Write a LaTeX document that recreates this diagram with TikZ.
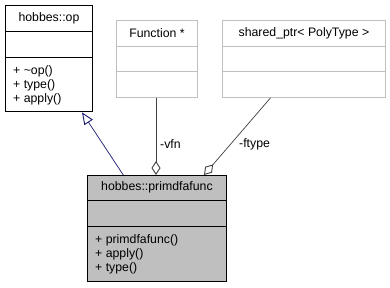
\documentclass[tikz,border=0pt]{standalone}
\usepackage{fontspec}
\setmainfont{Liberation Sans}
\usetikzlibrary{arrows.meta}
\definecolor{inhblue}{HTML}{191970}
\definecolor{usegray}{HTML}{404040}
\definecolor{boxgray}{HTML}{BFBFBF}
\definecolor{linegray}{HTML}{BFBFBF}
\tikzset{
  classbox/.style={draw=black, rectangle, inner sep=0pt, anchor=north west, line width=0.9pt},
  extbox/.style={draw=linegray, rectangle, inner sep=0pt, anchor=north west, line width=0.9pt},
  lbl/.style={font=\fontsize{12.3}{14}\selectfont, inner sep=0pt},
  members/.style={lbl, anchor=base west, align=left},
  inherit/.style={draw=inhblue, line width=0.7pt, -{Triangle[open, length=12pt, width=10pt, line width=0.9pt]}},
  aggr/.style={draw=usegray, line width=0.7pt, {Diamond[open, length=14pt, width=9pt, line width=0.9pt]}-},
}
\begin{document}
\begin{tikzpicture}[x=1pt, y=-1pt]
\useasboundingbox (0,0) rectangle (390,287);
\fill[white] (0,0) rectangle (390,287);

% base class hobbes::op
\node[classbox, minimum width=87pt, minimum height=106pt] (op) at (5,5) {};
\draw ([yshift=-26pt]op.north west) -- ([yshift=-26pt]op.north east);
\draw ([yshift=-52pt]op.north west) -- ([yshift=-52pt]op.north east);
\node[lbl] (opname) at ([yshift=-13pt]op.north) {hobbes::op};
% a multi-line node sits on the baseline of its last line
\node[members] (opops) at ([xshift=8pt, yshift=-97pt]op.north west)
  {+ \textasciitilde op()\\+ type()\\+ apply()};

% Function *
\node[extbox, minimum width=81pt, minimum height=77pt] (fn) at (116,20) {};
\draw[linegray, line width=0.9pt] ([yshift=-26pt]fn.north west) -- ([yshift=-26pt]fn.north east);
\draw[linegray, line width=0.9pt] ([yshift=-51pt]fn.north west) -- ([yshift=-51pt]fn.north east);
\node[lbl] (fnname) at ([yshift=-13pt]fn.north) {Function *};

% shared_ptr< PolyType >
\node[extbox, minimum width=163pt, minimum height=77pt] (sp) at (222,20) {};
\draw[linegray, line width=0.9pt] ([yshift=-26pt]sp.north west) -- ([yshift=-26pt]sp.north east);
\draw[linegray, line width=0.9pt] ([yshift=-51pt]sp.north west) -- ([yshift=-51pt]sp.north east);
\node[lbl] (spname) at ([yshift=-13pt]sp.north) {shared\_ptr< PolyType >};

% derived class hobbes::primdfafunc
\node[classbox, fill=boxgray, minimum width=139pt, minimum height=106pt] (pf) at (87,175) {};
\draw[line width=0.9pt] ([yshift=-25pt]pf.north west) -- ([yshift=-25pt]pf.north east);
\draw[line width=0.9pt] ([yshift=-51pt]pf.north west) -- ([yshift=-51pt]pf.north east);
\node[lbl] (pfname) at ([yshift=-12.5pt]pf.north) {hobbes::primdfafunc};
\node[members] (pfops) at ([xshift=8pt, yshift=-96pt]pf.north west)
  {+ primdfafunc()\\+ apply()\\+ type()};

% generalisation: primdfafunc -> op
\draw[inherit] ([xshift=36.3pt]pf.north west) -- ([xshift=77pt, yshift=-0.5pt]op.south west);

% aggregations: primdfafunc owns a Function * and a shared_ptr
\coordinate (vfnend) at ([xshift=69pt]pf.north west);
\draw[aggr] (vfnend) -- (vfnend |- fn.south);
\node[lbl, anchor=west] (vfnlbl) at (160,144) {-vfn};

\draw[aggr] ([xshift=117pt]pf.north west) -- ([xshift=48.5pt]sp.south west);
\node[lbl, anchor=west] (ftlbl) at (239,144) {-ftype};
\end{tikzpicture}
\end{document}
